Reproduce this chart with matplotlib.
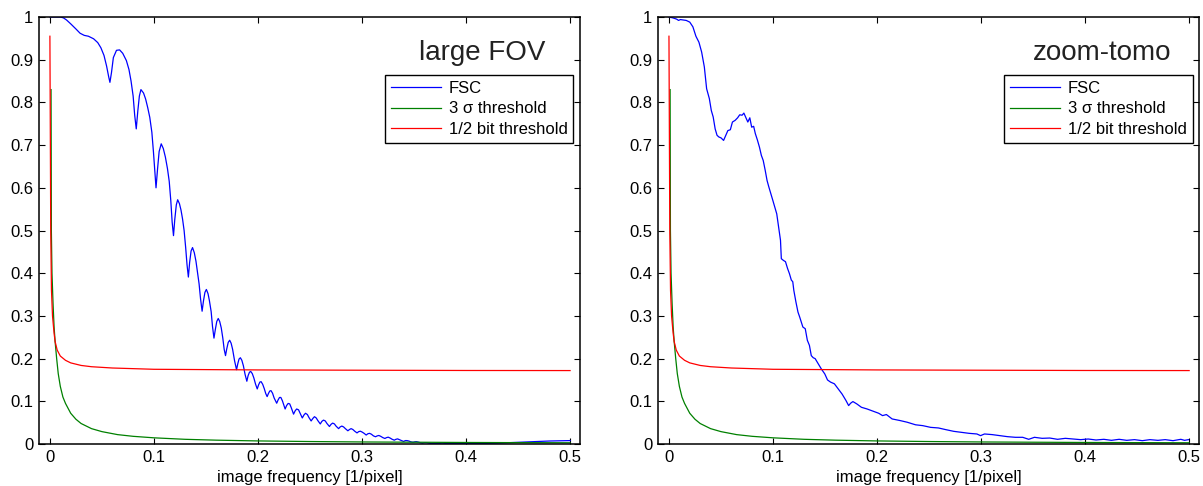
import matplotlib
matplotlib.use("Agg")
import matplotlib.pyplot as plt

plt.rcParams["font.family"] = ["Liberation Sans", "DejaVu Sans"]

# threshold curves (same for both panels)
half_bit_x = [0, 0.0008, 0.0015, 0.0025, 0.004, 0.005, 0.007, 0.01, 0.015, 0.02,
              0.03, 0.04, 0.06, 0.1, 0.2, 0.3, 0.4, 0.5]
half_bit_y = [0.955, 0.5, 0.36, 0.3, 0.26, 0.24, 0.22, 0.206, 0.196, 0.19,
              0.184, 0.181, 0.178, 0.175, 0.1735, 0.1728, 0.1722, 0.172]

sigma3_x = [0.0011, 0.0014, 0.002, 0.003, 0.004, 0.005, 0.0065, 0.008, 0.01, 0.0125,
            0.015, 0.02, 0.025, 0.03, 0.04, 0.05, 0.065, 0.08, 0.1, 0.13,
            0.16, 0.2, 0.25, 0.3, 0.4, 0.5]
sigma3_y = [0.83, 0.5, 0.4, 0.33, 0.275, 0.24, 0.2, 0.165, 0.135, 0.11,
            0.095, 0.072, 0.058, 0.048, 0.036, 0.029, 0.022, 0.018, 0.0145, 0.011,
            0.009, 0.0072, 0.0058, 0.0048, 0.0036, 0.0029]

# FSC, large field of view
fov_x = [0, 0.005, 0.010, 0.013, 0.016, 0.020, 0.025, 0.029, 0.033, 0.037,
         0.042, 0.046, 0.049, 0.052, 0.0545, 0.0565, 0.0577, 0.0592, 0.061, 0.064,
         0.067, 0.070, 0.0735, 0.076, 0.078, 0.080, 0.0815, 0.083, 0.0845, 0.086,
         0.0875, 0.090, 0.092, 0.094, 0.096, 0.098, 0.0995, 0.101, 0.102, 0.1035,
         0.105, 0.107, 0.109, 0.111, 0.113, 0.1147, 0.1162, 0.1175, 0.1188, 0.120,
         0.1215, 0.1228, 0.1245, 0.126, 0.1275, 0.129, 0.1305, 0.1318, 0.1331, 0.1343,
         0.1357, 0.1371, 0.1388, 0.1404, 0.142, 0.1434, 0.1448, 0.1463, 0.1476, 0.149,
         0.1504, 0.152, 0.1533, 0.155, 0.1563, 0.1577, 0.159, 0.1604, 0.1618, 0.1632,
         0.1647, 0.1662, 0.1675, 0.1688, 0.170, 0.1714, 0.1728, 0.1742, 0.1756, 0.1775,
         0.1794, 0.1806, 0.1818, 0.1831, 0.1845, 0.186, 0.1876, 0.1893, 0.1905, 0.1918,
         0.193, 0.1945, 0.196, 0.1977, 0.1993, 0.2005, 0.2018, 0.203, 0.2045, 0.206,
         0.2075, 0.2088, 0.21, 0.2113, 0.2125, 0.214, 0.2155, 0.218, 0.2193, 0.2207,
         0.222, 0.2235, 0.2261, 0.2275, 0.229, 0.2305, 0.232, 0.2342, 0.2358, 0.2372,
         0.239, 0.2405, 0.2426, 0.2442, 0.2457, 0.2475, 0.249, 0.2511, 0.2528, 0.2543,
         0.256, 0.2575, 0.2599, 0.2614, 0.263, 0.2647, 0.2663, 0.2687, 0.2702, 0.2718,
         0.2735, 0.275, 0.2775, 0.279, 0.2806, 0.2823, 0.284, 0.2864, 0.288, 0.2895,
         0.2912, 0.293, 0.2952, 0.2968, 0.2984, 0.3001, 0.302, 0.304, 0.3056, 0.3072,
         0.309, 0.311, 0.313, 0.3146, 0.3162, 0.318, 0.32, 0.322, 0.3236, 0.3252,
         0.327, 0.329, 0.331, 0.3326, 0.3342, 0.336, 0.338, 0.34, 0.3416, 0.3432,
         0.345, 0.347, 0.349, 0.3506, 0.3522, 0.354, 0.356, 0.358, 0.36, 0.362,
         0.364, 0.367, 0.372, 0.377, 0.382, 0.387, 0.392, 0.40, 0.41, 0.42,
         0.43, 0.44, 0.45, 0.46, 0.47, 0.48, 0.49, 0.5]
fov_y = [1.0, 1.0, 1.0, 0.998, 0.993, 0.984, 0.972, 0.962, 0.957, 0.955,
         0.949, 0.94, 0.928, 0.91, 0.885, 0.86, 0.847, 0.87, 0.905, 0.922,
         0.923, 0.915, 0.898, 0.877, 0.85, 0.815, 0.77, 0.738, 0.78, 0.815,
         0.83, 0.822, 0.808, 0.788, 0.765, 0.73, 0.685, 0.635, 0.60, 0.645,
         0.685, 0.703, 0.692, 0.672, 0.645, 0.615, 0.57, 0.52, 0.488, 0.525,
         0.56, 0.572, 0.563, 0.548, 0.527, 0.50, 0.46, 0.42, 0.391, 0.425,
         0.452, 0.46, 0.448, 0.428, 0.40, 0.375, 0.34, 0.311, 0.335, 0.355,
         0.362, 0.352, 0.336, 0.31, 0.275, 0.248, 0.268, 0.287, 0.294, 0.287,
         0.272, 0.248, 0.222, 0.207, 0.223, 0.238, 0.243, 0.236, 0.222, 0.195,
         0.174, 0.188, 0.199, 0.202, 0.196, 0.183, 0.163, 0.147, 0.16, 0.168,
         0.170, 0.165, 0.155, 0.14, 0.129, 0.138, 0.145, 0.146, 0.14, 0.13,
         0.118, 0.111, 0.118, 0.124, 0.125, 0.119, 0.108, 0.0955, 0.103, 0.109,
         0.109, 0.101, 0.082, 0.09, 0.095, 0.094, 0.085, 0.070, 0.078, 0.082,
         0.08, 0.072, 0.061, 0.068, 0.072, 0.069, 0.062, 0.054, 0.06, 0.064,
         0.061, 0.055, 0.047, 0.053, 0.056, 0.054, 0.048, 0.041, 0.046, 0.049,
         0.047, 0.042, 0.036, 0.04, 0.042, 0.04, 0.036, 0.031, 0.034, 0.036,
         0.034, 0.03, 0.026, 0.029, 0.03, 0.028, 0.025, 0.021, 0.024, 0.025,
         0.023, 0.019, 0.017, 0.019, 0.02, 0.018, 0.015, 0.013, 0.015, 0.016,
         0.014, 0.011, 0.009, 0.011, 0.012, 0.01, 0.008, 0.006, 0.008, 0.008,
         0.007, 0.005, 0.004, 0.005, 0.0055, 0.0045, 0.003, 0.002, 0.003, 0.003,
         0.002, 0.001, 0.001, 0.002, 0.001, 0.0015, 0.001, 0.0012, 0.001, 0.0015,
         0.002, 0.003, 0.004, 0.005, 0.006, 0.007, 0.0075, 0.008]

# FSC, zoom-tomo
zoom_x = [0, 0.0037, 0.0074, 0.0092, 0.011, 0.0166, 0.020, 0.023, 0.0259, 0.0288,
          0.0314, 0.034, 0.0362, 0.0388, 0.0407, 0.0425, 0.0444, 0.0462, 0.048, 0.05,
          0.0525, 0.0547, 0.0566, 0.059, 0.061, 0.0636, 0.066, 0.068, 0.0703, 0.072,
          0.074, 0.0758, 0.0777, 0.0795, 0.0814, 0.083, 0.085, 0.087, 0.0888, 0.0906,
          0.0925, 0.0943, 0.096, 0.098, 0.0999, 0.1017, 0.1036, 0.1054, 0.1072, 0.108,
          0.110, 0.112, 0.114, 0.1158, 0.1176, 0.119, 0.120, 0.122, 0.124, 0.1257,
          0.1287, 0.131, 0.133, 0.135, 0.1368, 0.1387, 0.1405, 0.1435, 0.1464, 0.1498,
          0.1524, 0.1553, 0.159, 0.1627, 0.1664, 0.1701, 0.1727, 0.1746, 0.1768, 0.1805,
          0.185, 0.1905, 0.196, 0.2016, 0.2053, 0.209, 0.2145, 0.222, 0.229, 0.237,
          0.244, 0.2515, 0.259, 0.266, 0.2737, 0.281, 0.2885, 0.296, 0.2995, 0.3033,
          0.3107, 0.318, 0.3254, 0.333, 0.340, 0.3458, 0.3513, 0.3587, 0.366, 0.3735,
          0.381, 0.3883, 0.3957, 0.403, 0.4105, 0.418, 0.4253, 0.4327, 0.44, 0.4475,
          0.455, 0.4623, 0.47, 0.477, 0.4845, 0.492, 0.4956, 0.4993]
zoom_y = [1.0, 0.998, 0.995, 0.992, 0.994, 0.992, 0.988, 0.977, 0.955, 0.941,
          0.918, 0.883, 0.832, 0.809, 0.781, 0.766, 0.738, 0.723, 0.719, 0.717,
          0.711, 0.723, 0.734, 0.736, 0.754, 0.758, 0.764, 0.771, 0.77, 0.775,
          0.764, 0.754, 0.764, 0.742, 0.744, 0.727, 0.712, 0.695, 0.676, 0.664,
          0.641, 0.617, 0.602, 0.586, 0.570, 0.555, 0.539, 0.508, 0.477, 0.434,
          0.43, 0.427, 0.411, 0.399, 0.384, 0.38, 0.36, 0.333, 0.309, 0.297,
          0.274, 0.270, 0.243, 0.231, 0.207, 0.202, 0.2, 0.188, 0.176, 0.164,
          0.150, 0.145, 0.141, 0.129, 0.117, 0.102, 0.090, 0.0955, 0.0994, 0.094,
          0.086, 0.082, 0.077, 0.072, 0.0665, 0.069, 0.0587, 0.055, 0.051, 0.045,
          0.043, 0.039, 0.0376, 0.0337, 0.0297, 0.0274, 0.025, 0.0235, 0.0196, 0.0235,
          0.022, 0.0196, 0.0172, 0.0157, 0.0157, 0.011, 0.0157, 0.0133, 0.014, 0.011,
          0.0133, 0.0117, 0.0102, 0.0117, 0.0094, 0.011, 0.0086, 0.011, 0.0086, 0.0102,
          0.0078, 0.0102, 0.0086, 0.0102, 0.0078, 0.011, 0.0086, 0.0102]

panels = [("large FOV", fov_x, fov_y), ("zoom-tomo", zoom_x, zoom_y)]

x_ticks = [0, 0.1, 0.2, 0.3, 0.4, 0.5]
x_labels = ["0", "0.1", "0.2", "0.3", "0.4", "0.5"]
y_ticks = [0, 0.1, 0.2, 0.3, 0.4, 0.5, 0.6, 0.7, 0.8, 0.9, 1.0]
y_labels = ["0", "0.1", "0.2", "0.3", "0.4", "0.5", "0.6", "0.7", "0.8", "0.9", "1"]

fig = plt.figure(figsize=(12.03, 4.86), dpi=100)
axes = [fig.add_axes([0.0324, 0.0864, 0.4497, 0.8786]),
        fig.add_axes([0.547, 0.0864, 0.4497, 0.8786])]

for ax, (name, fx, fy) in zip(axes, panels):
    ax.plot(fx, fy, color="#0000ff", lw=0.9, label="FSC")
    ax.plot(sigma3_x, sigma3_y, color="#008000", lw=0.9, label="3 σ threshold")
    ax.plot(half_bit_x, half_bit_y, color="#ff0000", lw=0.9, label="1/2 bit threshold")

    ax.set_xlim(-0.0105, 0.5095)
    ax.set_ylim(0, 1)
    ax.set_xticks(x_ticks)
    ax.set_xticklabels(x_labels)
    ax.set_yticks(y_ticks)
    ax.set_yticklabels(y_labels)
    ax.tick_params(direction="in", top=True, right=True, length=4, width=0.8,
                   labelsize=12, pad=4)
    for sp in ax.spines.values():
        sp.set_linewidth(1.1)
    ax.set_xlabel("image frequency [1/pixel]", fontsize=12, labelpad=4)

    ax.text(0.82, 0.899, name, transform=ax.transAxes, ha="center",
            va="baseline", fontsize=20, color="#222222")

    leg = ax.legend(loc="upper right", bbox_to_anchor=(0.988, 0.864),
                    borderaxespad=0, fontsize=12, handlelength=3.0,
                    handletextpad=0.45, labelspacing=0.33, borderpad=0.35,
                    fancybox=False, framealpha=1)
    leg.get_frame().set_edgecolor("black")
    leg.get_frame().set_linewidth(1.0)

fig.savefig("out.png", dpi=100)
